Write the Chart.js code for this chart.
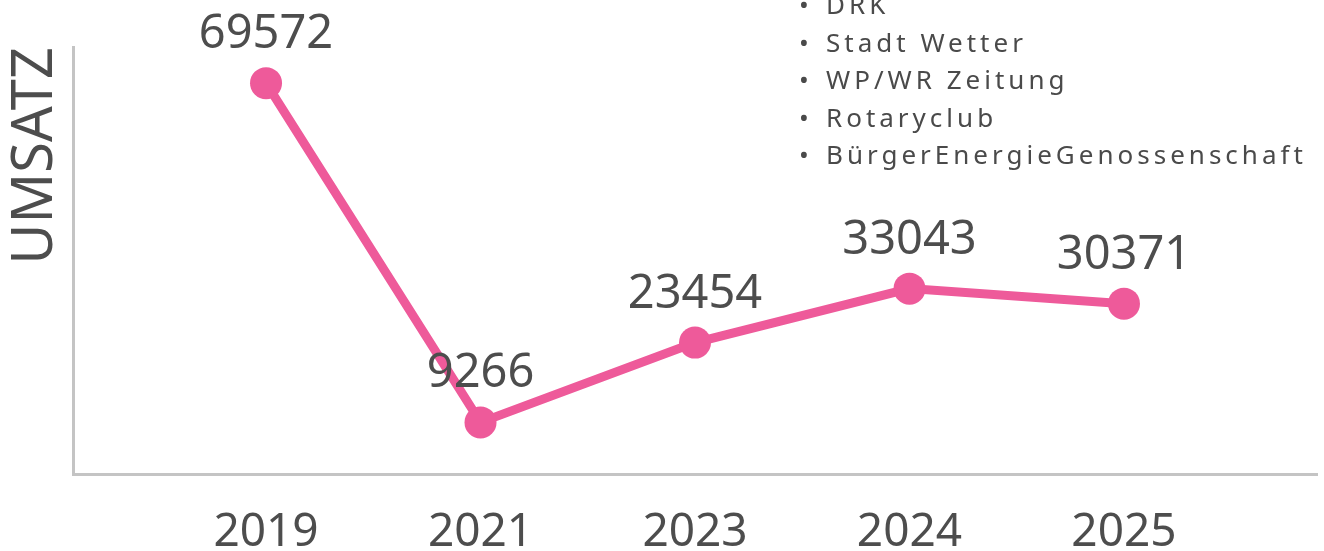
<!DOCTYPE html>
<html>
<head>
<meta charset="utf-8">
<script src="https://cdn.jsdelivr.net/npm/chart.js@4/dist/chart.umd.min.js"></script>
<style>
html,body{margin:0;padding:0;background:#fff;}
#wrap{position:relative;width:1324px;height:551px;overflow:hidden;}
#c{position:absolute;left:0;top:0;}
#notes{position:absolute;left:799px;top:-14px;margin:0;padding:0;list-style:none;
  font-family:'Noto Sans',sans-serif;font-size:26px;line-height:37.5px;letter-spacing:4px;color:#4a4a4a;white-space:nowrap;}
#notes .b{display:inline-block;width:27px;letter-spacing:0;}
</style>
</head>
<body>
<div id="wrap">
  <canvas id="c" width="1324" height="551"></canvas>
  <ul id="notes"></ul>
</div>
<script>
const years = ['2019', '2021', '2023', '2024', '2025'];
const umsatz = [69572, 9266, 23454, 33043, 30371];
const notes = ['DRK', 'Stadt Wetter', 'WP/WR Zeitung', 'Rotaryclub', 'BürgerEnergieGenossenschaft'];
const yAxisTitle = 'UMSATZ';

const ul = document.getElementById('notes');
notes.forEach(n => {
  const li = document.createElement('li');
  const b = document.createElement('span');
  b.className = 'b';
  b.textContent = '•';
  li.appendChild(b);
  li.appendChild(document.createTextNode(n));
  ul.appendChild(li);
});

const TEXT = '#4d4d4d';
const PINK = '#ee5a9a';
const AXIS = '#c4c4c4';

const valueLabels = {
  id: 'valueLabels',
  afterDatasetsDraw(chart) {
    const ctx = chart.ctx;
    const meta = chart.getDatasetMeta(0);
    const ds = chart.data.datasets[0].data;
    ctx.save();
    ctx.font = '47px "Noto Sans"';
    ctx.fillStyle = TEXT;
    ctx.textAlign = 'center';
    ctx.textBaseline = 'alphabetic';
    meta.data.forEach((pt, i) => {
      ctx.fillText(String(ds[i].y), pt.x, pt.y - 35);
    });
    ctx.restore();
  }
};

new Chart(document.getElementById('c'), {
  type: 'line',
  data: {
    datasets: [{
      data: umsatz.map((v, i) => ({ x: i, y: v })),
      borderColor: PINK,
      backgroundColor: PINK,
      borderWidth: 9,
      pointRadius: 16,
      pointHoverRadius: 16,
      pointBorderWidth: 0,
      pointBackgroundColor: PINK,
      tension: 0,
      fill: false
    }]
  },
  options: {
    responsive: false,
    animation: false,
    devicePixelRatio: 1,
    layout: { autoPadding: false, padding: { top: 47, right: 7, left: 0, bottom: 0 } },
    plugins: { legend: { display: false }, tooltip: { enabled: false } },
    scales: {
      x: {
        type: 'linear',
        min: -0.9,
        max: 4.9,
        afterBuildTicks: s => { s.ticks = years.map((_, i) => ({ value: i })); },
        afterFit: s => { s.height = 76.5; s.paddingRight = 0; s.paddingLeft = 0; },
        grid: { display: false, drawTicks: false },
        border: { display: true, color: AXIS, width: 3 },
        ticks: {
          autoSkip: false,
          maxRotation: 0,
          padding: 31,
          color: TEXT,
          font: { family: 'Noto Sans', size: 46 },
          callback: v => years[v]
        }
      },
      y: {
        min: 0,
        max: 76000,
        afterFit: s => { s.width = 73; },
        grid: { display: false, drawTicks: false },
        border: { display: true, color: AXIS, width: 3 },
        ticks: { display: false },
        title: {
          display: true,
          text: yAxisTitle,
          align: 'end',
          color: TEXT,
          font: { family: 'Noto Sans', size: 56, weight: 'normal' },
          padding: { top: 2, bottom: 0 }
        }
      }
    }
  },
  plugins: [valueLabels]
});
</script>
</body>
</html>
